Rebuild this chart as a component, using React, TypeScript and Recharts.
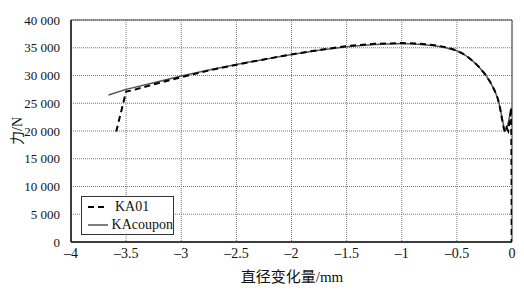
import React from 'react';
import { LineChart, Line, XAxis, YAxis, CartesianGrid, ReferenceArea, Label } from 'recharts';

const xTicks = [-4, -3.5, -3, -2.5, -2, -1.5, -1, -0.5, 0];
const yTicks = [0, 5000, 10000, 15000, 20000, 25000, 30000, 35000, 40000];

const couponX = [-3.66, -3.5, -3.25, -3.0, -2.75, -2.5, -2.25, -2.0, -1.75, -1.5, -1.25, -1.0, -0.85, -0.7, -0.6, -0.5, -0.42, -0.35, -0.29, -0.24, -0.2, -0.16, -0.13, -0.11, -0.09, -0.075, -0.065, -0.05, -0.03, -0.012, -0.006];
const couponF = [26500, 27500, 28700, 29900, 31000, 32000, 32900, 33800, 34550, 35200, 35600, 35750, 35650, 35350, 35000, 34450, 33600, 32500, 31300, 30100, 28900, 27400, 25900, 24400, 22300, 20800, 20000, 20300, 21800, 23600, 24200];

const ka01X = [-3.59, -3.5, -3.45, -3.25, -3.0, -2.75, -2.5, -2.25, -2.0, -1.75, -1.5, -1.25, -1.0, -0.85, -0.7, -0.6, -0.5, -0.42, -0.35, -0.29, -0.24, -0.2, -0.16, -0.13, -0.11, -0.09, -0.075, -0.062, -0.05, -0.035, -0.02, -0.008, -0.004, -0.003];
const ka01F = [19900, 27100, 27300, 28400, 29700, 30900, 31950, 32900, 33800, 34600, 35300, 35700, 35850, 35750, 35450, 35100, 34500, 33650, 32550, 31350, 30100, 28900, 27400, 25900, 24300, 22100, 20500, 19800, 20600, 20000, 22000, 24200, 12000, 0];

const couponData = couponX.map((x, i) => ({ x, f: couponF[i] }));
const ka01Data = ka01X.map((x, i) => ({ x, f: ka01F[i] }));

const SERIF = "'Liberation Serif', 'Times New Roman', 'Noto Sans CJK SC', serif";

const fmtY = (v: number) => {
  if (v === 0) return '0';
  const s = String(v);
  return s.slice(0, s.length - 3) + ' ' + s.slice(s.length - 3);
};
const fmtX = (v: number) => (v < 0 ? '\u2013' + String(Math.abs(v)) : String(v));

const XTick = (props: any) => {
  const { x, y, payload } = props;
  return (
    <text x={x} y={y + 14} textAnchor="middle" fontSize={14} fill="#111">
      {fmtX(payload.value)}
    </text>
  );
};

const YTick = (props: any) => {
  const { x, y, payload } = props;
  return (
    <text x={x - 9} y={y + 4.5} textAnchor="end" fontSize={13} fill="#111">
      {fmtY(payload.value)}
    </text>
  );
};

const LegendBox = () => (
  <div style={{ position: 'absolute', left: 81, top: 196, border: '1px solid #333', background: '#fff', width: 93, height: 39, boxSizing: 'border-box', fontSize: 14, color: '#111', lineHeight: '18px' }}>
    <div style={{ display: 'flex', alignItems: 'center', height: 18, marginTop: 1 }}>
      <svg width={30} height={10} style={{ marginLeft: 5 }}>
        <line x1={1} y1={5} x2={21} y2={5} stroke="#000" strokeWidth={2} strokeDasharray="6 4" />
      </svg>
      <span style={{ marginLeft: -2 }}>KA01</span>
    </div>
    <div style={{ display: 'flex', alignItems: 'center', height: 18 }}>
      <svg width={30} height={10} style={{ marginLeft: 5 }}>
        <line x1={1} y1={5} x2={21} y2={5} stroke="#555" strokeWidth={1.5} />
      </svg>
      <span style={{ marginLeft: -2 }}>KAcoupon</span>
    </div>
  </div>
);

const css = `.chartbox, .chartbox * { font-family: ${SERIF} !important; }`;

export default function App() {
  return (
    <div className="chartbox" style={{ position: 'absolute', left: 0, top: 0, width: 524, height: 295, background: '#fff' }}>
      <style>{css}</style>
      <LineChart width={524} height={295} margin={{ top: 20, right: 12, left: 0, bottom: 0 }}>
        <CartesianGrid stroke="#777" strokeDasharray="1 1" verticalValues={xTicks} horizontalValues={yTicks} />
        <XAxis
          type="number"
          dataKey="x"
          domain={[-4, 0]}
          ticks={xTicks}
          allowDataOverflow
          height={53}
          tickLine={false}
          tickSize={0}
          axisLine={{ stroke: '#222', strokeWidth: 1.5 }}
          tick={<XTick />}
        >
          <Label
            content={() => (
              <text x={292} y={282} textAnchor="middle" fontSize={15} fill="#111">
                直径变化量/mm
              </text>
            )}
          />
        </XAxis>
        <YAxis
          type="number"
          domain={[0, 40000]}
          ticks={yTicks}
          width={71}
          tickLine={false}
          tickSize={0}
          axisLine={{ stroke: '#222', strokeWidth: 1.5 }}
          tick={<YTick />}
        >
          <Label
            content={() => (
              <text x={22} y={131} textAnchor="middle" transform="rotate(-90 22 131)" fontSize={14} fill="#111">
                力/N
              </text>
            )}
          />
        </YAxis>
        <ReferenceArea x1={-4} x2={0} y1={0} y2={40000} fill="none" stroke="#444" strokeWidth={1} ifOverflow="visible" />
        <Line data={couponData} dataKey="f" type="linear" stroke="#555" strokeWidth={1.5} dot={false} isAnimationActive={false} />
        <Line data={ka01Data} dataKey="f" type="linear" stroke="#000" strokeWidth={2} strokeDasharray="6 4" dot={false} isAnimationActive={false} />
      </LineChart>
      <LegendBox />
    </div>
  );
}
